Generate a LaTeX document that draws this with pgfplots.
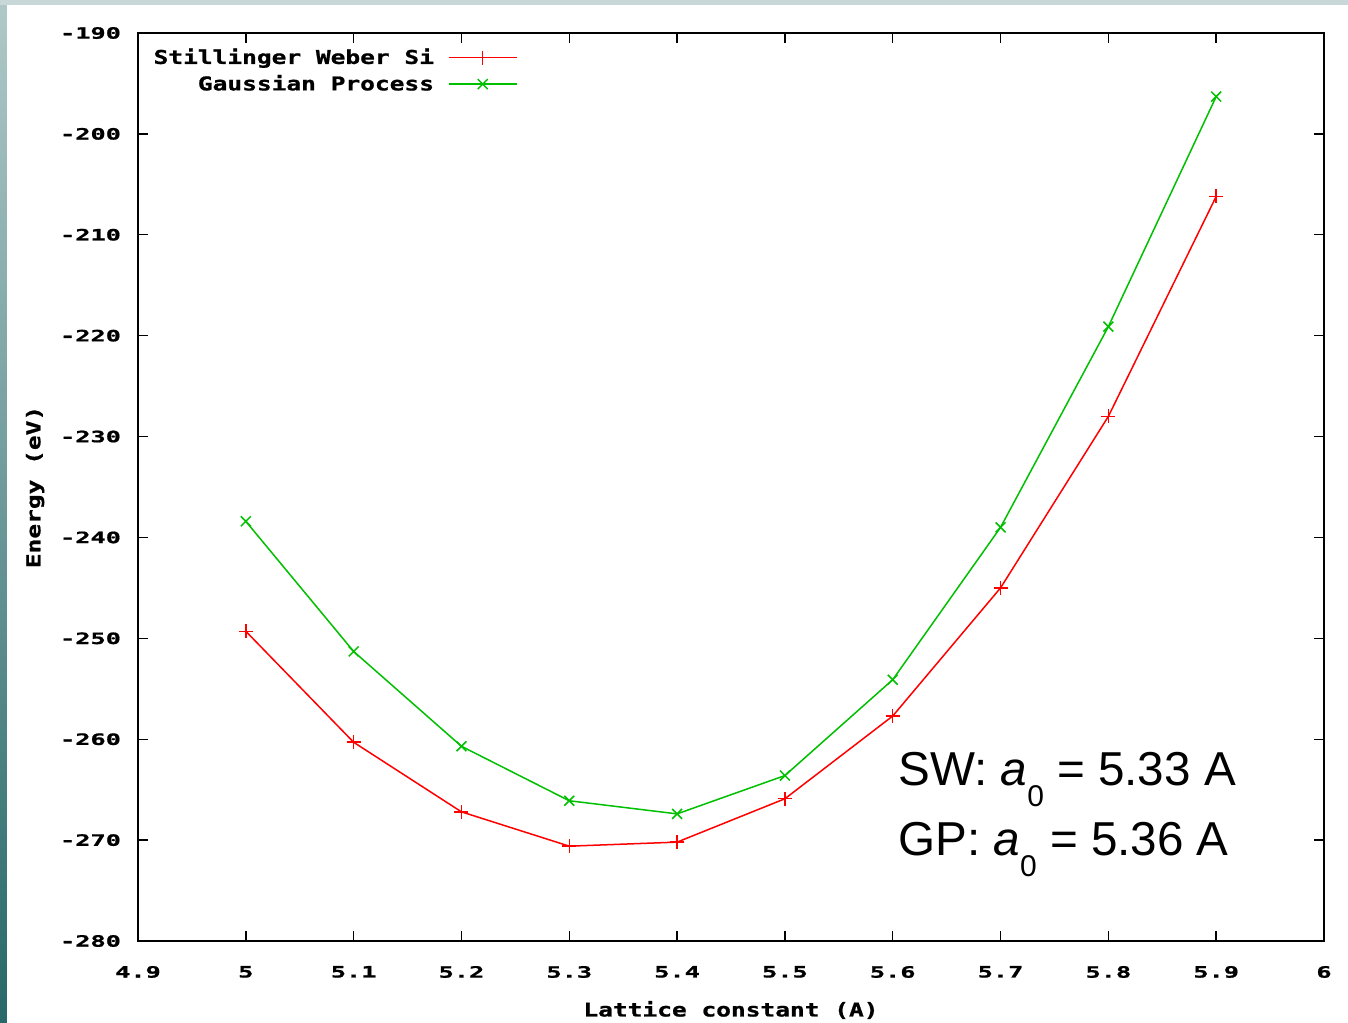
\documentclass[border=0pt]{standalone}
\usepackage{pgfplots}
\pgfplotsset{compat=1.18}
\usepackage{fontspec}
\setmainfont{Liberation Sans}
\newfontfamily\gptick{DejaVu Sans Mono Bold}[FakeStretch=1.62, FakeBold=1]
\newfontfamily\gplab{DejaVu Sans Mono Bold}[FakeStretch=1.29, FakeBold=1]
\definecolor{gpred}{RGB}{255,0,0}
\definecolor{gpgreen}{RGB}{0,192,0}
\definecolor{slidetop}{RGB}{200,216,216}
\definecolor{slideA}{RGB}{176,200,200}
\definecolor{slideB}{RGB}{40,104,104}
\pgfplotstableread{
x y
5.0 -249.3
5.1 -260.3
5.2 -267.2
5.3 -270.6
5.4 -270.2
5.5 -265.9
5.6 -257.7
5.7 -245.0
5.8 -228.0
5.9 -206.2
}\sw
\pgfplotstableread{
x y
5.0 -238.4
5.1 -251.3
5.2 -260.7
5.3 -266.1
5.4 -267.4
5.5 -263.6
5.6 -254.1
5.7 -239.0
5.8 -219.1
5.9 -196.3
}\gp
\begin{document}
\begin{tikzpicture}
\fill[white] (-69pt,-40.5pt) rectangle (605pt,470.5pt);
\shade[top color=slideA, bottom color=slideB] (-69pt,-40.5pt) rectangle (-65.5pt,470.5pt);
\fill[slidetop] (-69pt,468pt) rectangle (605pt,470.5pt);
\begin{axis}[
  scale only axis, width=593pt, height=454pt,
  xmin=4.9, xmax=6, ymin=-280, ymax=-190,
  xtick={4.9,5,5.1,5.2,5.3,5.4,5.5,5.6,5.7,5.8,5.9,6},
  ytick={-280,-270,-260,-250,-240,-230,-220,-210,-200,-190},
  /pgf/number format/assume math mode=true,
  /pgf/number format/fixed,
  /pgf/number format/1000 sep={},
  tick align=inside, major tick length=5pt,
  tick style={black, line width=0.7pt},
  axis line style={black, line width=0.8pt},
  ticklabel style={font=\gptick\fontsize{7.8}{9}\selectfont},
  xticklabel style={yshift=-9pt},
  yticklabel style={xshift=-5pt},
  xlabel={Lattice constant (A)},
  ylabel={Energy (eV)},
  label style={font=\gplab\fontsize{9.5}{11}\selectfont},
  xlabel style={at={(axis description cs:0.5,-0.076)}, anchor=center},
  ylabel style={at={(axis description cs:-0.0868,0.5)}, anchor=center, rotate=0},
  legend plot pos=right,
  legend cell align=right,
  legend style={at={(axis description cs:0.322,0.99)}, anchor=north east,
    draw=none, fill=none, font=\gplab\fontsize{9.5}{11}\selectfont,
    row sep=0pt, column sep=5pt, inner sep=1pt},
  legend image code/.code={%
    \draw[mark repeat=2,mark phase=2,#1] plot coordinates {(0pt,0pt) (17pt,0pt) (34pt,0pt)};},
]
\addplot[gpred, line width=0.75pt, mark=+, mark size=3.5pt] table[x=x,y=y] {\sw};
\addlegendentry{Stillinger Weber Si}
\addplot[gpgreen, line width=0.75pt, mark=x, mark size=3.5pt] table[x=x,y=y] {\gp};
\addlegendentry{Gaussian Process}
\node[anchor=base west, font=\fontsize{23.8}{28}\selectfont, inner sep=0pt] at (axis cs:5.605,-264.6)
  {SW: \textit{a}\raisebox{-10.5pt}{\fontsize{15}{18}\selectfont 0} = 5.33 A};
\node[anchor=base west, font=\fontsize{23.8}{28}\selectfont, inner sep=0pt] at (axis cs:5.605,-271.5)
  {GP: \textit{a}\raisebox{-10.5pt}{\fontsize{15}{18}\selectfont 0} = 5.36 A};
\end{axis}
\pgfresetboundingbox
\path[use as bounding box] (-69pt,-40.5pt) rectangle (605pt,470.5pt);
\end{tikzpicture}
\end{document}
